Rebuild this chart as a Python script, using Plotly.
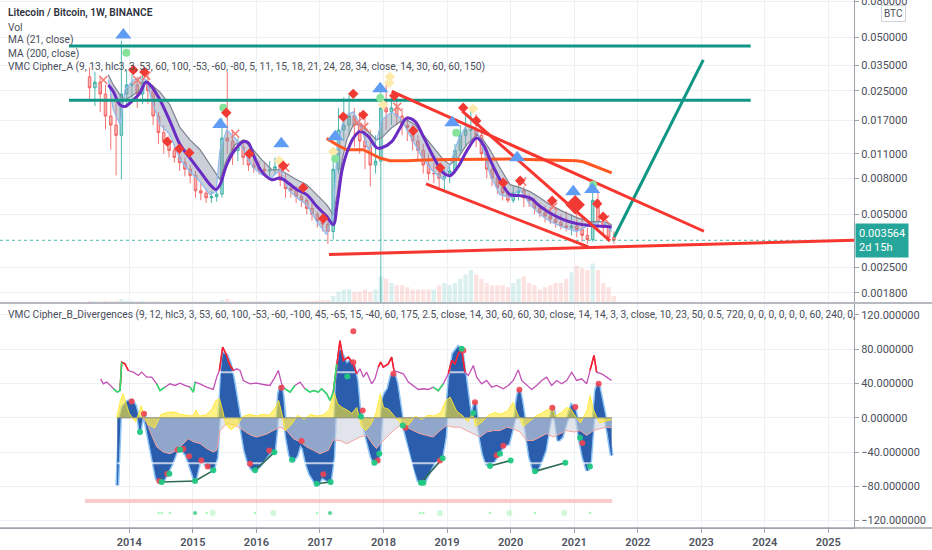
import math
import plotly.graph_objects as go

# ---------------- price pane (LTC/BTC, monthly candles) ----------------
candle_start = (2013, 5)
highs = [0.034, 0.032, 0.030, 0.027, 0.024, 0.022, 0.048, 0.033,
         0.031, 0.030, 0.033, 0.031, 0.027, 0.019, 0.016, 0.014, 0.0125, 0.011, 0.0105, 0.0095,
         0.0088, 0.0075, 0.0070, 0.0068, 0.0070, 0.0175, 0.032, 0.0150, 0.0135, 0.0130, 0.0115, 0.0110,
         0.0100, 0.0098, 0.0100, 0.0105, 0.0092, 0.0085, 0.0075, 0.0072, 0.0068, 0.0062, 0.0058, 0.0052,
         0.0050, 0.0046, 0.0105, 0.0200, 0.0230, 0.0240, 0.0200, 0.0190, 0.0180, 0.0150, 0.0140, 0.0250,
         0.0270, 0.0240, 0.0230, 0.0200, 0.0180, 0.0160, 0.0140, 0.0125, 0.0110, 0.0098, 0.0095, 0.0090,
         0.0095, 0.0125, 0.0160, 0.0180, 0.0195, 0.0185, 0.0145, 0.0115, 0.0095, 0.0085, 0.0075, 0.0068,
         0.0072, 0.0078, 0.0072, 0.0065, 0.0062, 0.0058, 0.0056, 0.0055, 0.0052, 0.0050, 0.0052, 0.0050,
         0.0052, 0.0048, 0.0042, 0.0072, 0.0068, 0.0050, 0.0044, 0.0040]
lows = [0.022, 0.0205, 0.019, 0.0151, 0.0116, 0.0083, 0.0079, 0.020,
        0.022, 0.020, 0.021, 0.021, 0.016, 0.0125, 0.011, 0.0105, 0.0098, 0.0088, 0.0082, 0.0075,
        0.0062, 0.0060, 0.0058, 0.0058, 0.0059, 0.0062, 0.0110, 0.0095, 0.0100, 0.0095, 0.0088, 0.0086,
        0.0084, 0.0082, 0.0082, 0.0085, 0.0072, 0.0062, 0.0062, 0.0058, 0.0055, 0.0050, 0.0046, 0.0042,
        0.0040, 0.0034, 0.0036, 0.0085, 0.0130, 0.0140, 0.0120, 0.0110, 0.0090, 0.0072, 0.0085, 0.0012,
        0.0150, 0.0160, 0.0160, 0.0140, 0.0130, 0.0115, 0.0100, 0.0085, 0.0078, 0.0075, 0.0070, 0.0068,
        0.0075, 0.0085, 0.0110, 0.0120, 0.0130, 0.0120, 0.0100, 0.0080, 0.0072, 0.0065, 0.0060, 0.0058,
        0.0058, 0.0060, 0.0055, 0.0055, 0.0050, 0.0048, 0.0045, 0.0044, 0.0042, 0.0041, 0.0040, 0.0038,
        0.0037, 0.0035, 0.0034, 0.0035, 0.0040, 0.0038, 0.0035, 0.0034]
closes = [0.026, 0.028, 0.024, 0.018, 0.016, 0.014, 0.024, 0.027,
          0.027, 0.024, 0.028, 0.025, 0.018, 0.0145, 0.013, 0.0115, 0.0105, 0.0098, 0.0090, 0.0083,
          0.0068, 0.0066, 0.0062, 0.0063, 0.0065, 0.0135, 0.0130, 0.0115, 0.0120, 0.0105, 0.0095, 0.0092,
          0.0090, 0.0088, 0.0089, 0.0093, 0.0078, 0.0070, 0.0068, 0.0063, 0.0060, 0.0054, 0.0050, 0.0046,
          0.0044, 0.0040, 0.0090, 0.0150, 0.0160, 0.0180, 0.0160, 0.0130, 0.0120, 0.0095, 0.0100, 0.0200,
          0.0190, 0.0200, 0.0180, 0.0160, 0.0155, 0.0130, 0.0115, 0.0095, 0.0085, 0.0085, 0.0080, 0.0082,
          0.0088, 0.0115, 0.0140, 0.0150, 0.0150, 0.0140, 0.0110, 0.0090, 0.0080, 0.0071, 0.0066, 0.0060,
          0.0066, 0.0068, 0.0062, 0.0060, 0.0054, 0.0051, 0.0049, 0.0047, 0.0045, 0.0043, 0.0042, 0.0043,
          0.0041, 0.0038, 0.0036, 0.0060, 0.0045, 0.0042, 0.0037, 0.003564]
first_open = 0.030
volumes = [0.04, 0.03, 0.03, 0.04, 0.03, 0.04, 0.08, 0.05,
           0.04, 0.03, 0.04, 0.03, 0.03, 0.03, 0.02, 0.02, 0.02, 0.02, 0.02, 0.02,
           0.02, 0.02, 0.02, 0.02, 0.02, 0.06, 0.08, 0.04, 0.03, 0.03, 0.03, 0.03,
           0.03, 0.03, 0.03, 0.03, 0.03, 0.03, 0.03, 0.03, 0.03, 0.03, 0.04, 0.04,
           0.05, 0.06, 0.15, 0.25, 0.30, 0.30, 0.25, 0.25, 0.30, 0.25, 0.30, 0.60,
           0.55, 0.45, 0.40, 0.40, 0.35, 0.30, 0.30, 0.30, 0.30, 0.30, 0.40, 0.45,
           0.40, 0.45, 0.55, 0.65, 0.75, 0.65, 0.55, 0.45, 0.40, 0.40, 0.40, 0.35,
           0.45, 0.55, 0.60, 0.45, 0.40, 0.30, 0.35, 0.40, 0.45, 0.45, 0.55, 0.70,
           0.85, 0.80, 0.75, 0.90, 0.75, 0.45, 0.35, 0.15]
last_price = 0.003564

# MA(21) and the Cipher_A ema ribbon (fast / slow edge)
ma21_t = [2013.670, 2013.748, 2013.854, 2013.932, 2014.063, 2014.168, 2014.263, 2014.352, 2014.483, 2014.640,
          2014.798, 2014.955, 2015.113, 2015.270, 2015.364, 2015.427, 2015.533, 2015.663, 2015.794, 2015.873,
          2015.951, 2016.083, 2016.241, 2016.371, 2016.502, 2016.634, 2016.792, 2016.949, 2017.106, 2017.210,
          2017.270, 2017.350, 2017.421, 2017.525, 2017.630, 2017.761, 2017.893, 2017.972, 2018.129, 2018.260,
          2018.365, 2018.496, 2018.626, 2018.784, 2018.941, 2019.046, 2019.177, 2019.309, 2019.467, 2019.570,
          2019.676, 2019.833, 2019.991, 2020.148, 2020.305, 2020.462, 2020.619, 2020.829, 2021.040, 2021.249,
          2021.459, 2021.591]
ma21_v = [0.0270, 0.0248, 0.0208, 0.0204, 0.0222, 0.0243, 0.0280, 0.0264, 0.0222, 0.0168,
          0.0124, 0.0104, 0.00875, 0.00736, 0.00690, 0.00736, 0.00954, 0.0116, 0.0129, 0.0127,
          0.0109, 0.00875, 0.00785, 0.00803, 0.00752, 0.00690, 0.00646, 0.00555, 0.00487, 0.00437,
          0.00567, 0.00896, 0.0111, 0.0135, 0.0147, 0.0138, 0.0119, 0.0119, 0.0129, 0.0154,
          0.0175, 0.0168, 0.0138, 0.0106, 0.00857, 0.00827, 0.00934, 0.0114, 0.0135, 0.0124,
          0.0102, 0.00785, 0.00646, 0.00638, 0.00619, 0.00555, 0.00509, 0.00467, 0.00443, 0.00432,
          0.00428, 0.00424]
rib_fast = [0.0288, 0.0195, 0.0161, 0.0253, 0.0288, 0.0296, 0.0288, 0.0222, 0.0161, 0.0141,
            0.0102, 0.00871, 0.00764, 0.00646, 0.00672, 0.0116, 0.0151, 0.01355, 0.0116, 0.0102,
            0.00918, 0.00838, 0.00806, 0.00894, 0.0069, 0.00621, 0.00567, 0.00455, 0.00384, 0.00498,
            0.0116, 0.0161, 0.0183, 0.0190, 0.0161, 0.0116, 0.0132, 0.0171, 0.0190, 0.0176,
            0.0151, 0.0124, 0.0102, 0.00871, 0.00785, 0.00954, 0.0132, 0.0161, 0.0151, 0.0116,
            0.00838, 0.00646, 0.00621, 0.0069, 0.00567, 0.00498, 0.00455, 0.00421, 0.00399, 0.00437,
            0.00455, 0.00399]
rib_slow = [0.0308, 0.0270, 0.0237, 0.0222, 0.0237, 0.0253, 0.0281, 0.0270, 0.0246, 0.0208,
            0.01545, 0.0132, 0.0116, 0.00954, 0.00838, 0.00785, 0.0102, 0.0124, 0.0132, 0.0124,
            0.0116, 0.0102, 0.00894, 0.00894, 0.00838, 0.00785, 0.00736, 0.00646, 0.00567, 0.00498,
            0.00646, 0.0102, 0.0132, 0.0161, 0.0161, 0.01466, 0.0132, 0.01355, 0.01545, 0.01672,
            0.0171, 0.0161, 0.0141, 0.0119, 0.0102, 0.00954, 0.01046, 0.0124, 0.0141, 0.0132,
            0.0116, 0.00918, 0.00736, 0.00708, 0.00672, 0.00621, 0.00567, 0.00518, 0.00479, 0.00455,
            0.00455, 0.00437]

# MA(200)
ma200_t = [2017.106, 2017.264, 2017.421, 2017.682, 2017.840, 2017.945, 2018.102, 2018.365, 2018.732,
           2019.362, 2019.991, 2021.040, 2021.144, 2021.591]
ma200_v = [0.01345, 0.01238, 0.0116, 0.0116, 0.01087, 0.01041, 0.01006, 0.01006, 0.01019,
           0.01028, 0.01028, 0.01006, 0.00992, 0.00857]

# drawn levels / trend lines: (t0, p0, t1, p1)
teal_lines = [(2013.051, 0.0449, 2023.778, 0.0449),
              (2013.051, 0.0221, 2023.778, 0.0221),
              (2021.632, 0.00372, 2023.032, 0.0374)]
red_lines = [(2017.142, 0.00296, 2025.404, 0.003565),
             (2018.129, 0.0248, 2023.043, 0.00401),
             (2019.240, 0.0192, 2021.564, 0.00354),
             (2018.669, 0.00743, 2021.223, 0.00327)]

# Cipher_A signals
tri_t = [2013.906, 2015.431, 2016.391, 2017.240, 2017.948, 2019.081, 2020.104, 2020.985, 2021.284]
tri_p = [0.0518, 0.0161, 0.01254, 0.01374, 0.02566, 0.01648, 0.01045, 0.00671, 0.0069]
dia_t = [2014.063, 2014.236, 2014.598, 2014.787, 2014.944, 2015.526, 2015.888, 2016.422, 2016.737, 2017.052,
         2017.366, 2017.524, 2017.681, 2018.169, 2018.468, 2018.892, 2019.254, 2019.459, 2019.883, 2020.151,
         2020.654, 2021.362, 2021.456]
dia_p = [0.0328, 0.0320, 0.01289, 0.01175, 0.01116, 0.0188, 0.01102, 0.00942, 0.00708, 0.00473,
         0.01782, 0.02404, 0.01828, 0.02344, 0.01486, 0.00918, 0.02004, 0.01691, 0.00755, 0.00774,
         0.00597, 0.00574, 0.00485]
big_dia_t = [2021.016]
big_dia_p = [0.00567]
xs_t = [2013.591, 2014.126, 2014.267, 2015.667, 2016.454, 2017.587, 2017.697, 2018.216, 2020.182, 2020.670, 2021.488]
xs_p = [0.0288, 0.0288, 0.0304, 0.01428, 0.00918, 0.01648, 0.01563, 0.02032, 0.00765, 0.00552, 0.00467]
gdot_t = [2013.953, 2015.479, 2017.240, 2017.948, 2019.144, 2021.299]
gdot_p = [0.0410, 0.02004, 0.01032, 0.0228, 0.01448, 0.00736]
ydia_t = [2016.360, 2017.209, 2017.995, 2018.090, 2018.100, 2019.410]
ydia_p = [0.01005, 0.01131, 0.02085, 0.02775, 0.0300, 0.01977]

# ---------------- oscillator pane (VMC Cipher_B) ----------------
wt_t = [2013.811, 2013.854, 2013.896, 2013.958,
        2014.037, 2014.090, 2014.142, 2014.168, 2014.200, 2014.231, 2014.273, 2014.326, 2014.378, 2014.431,
        2014.483, 2014.536, 2014.588, 2014.667, 2014.745, 2014.824, 2014.903, 2014.981,
        2015.034, 2015.070, 2015.112, 2015.165, 2015.244, 2015.322, 2015.375, 2015.401, 2015.427, 2015.453,
        2015.480, 2015.532, 2015.585, 2015.637, 2015.690, 2015.731, 2015.768, 2015.821, 2015.873, 2015.926,
        2015.978,
        2016.057, 2016.135, 2016.214, 2016.277, 2016.319, 2016.355, 2016.387, 2016.413, 2016.439, 2016.476,
        2016.529, 2016.581, 2016.634, 2016.686, 2016.739, 2016.791, 2016.843, 2016.922, 2016.974,
        2017.027, 2017.079, 2017.158, 2017.210, 2017.236, 2017.263, 2017.315, 2017.368, 2017.420, 2017.473,
        2017.525, 2017.578, 2017.620, 2017.656, 2017.709, 2017.761, 2017.814, 2017.856, 2017.903, 2017.934,
        2017.955, 2017.987,
        2018.024, 2018.076, 2018.128, 2018.165, 2018.207, 2018.249, 2018.286, 2018.338, 2018.391, 2018.443,
        2018.496, 2018.548, 2018.601, 2018.653, 2018.705, 2018.784, 2018.863, 2018.915, 2018.968, 2018.994,
        2019.036, 2019.099, 2019.177, 2019.230, 2019.282, 2019.335, 2019.371, 2019.403, 2019.440, 2019.466,
        2019.519, 2019.571, 2019.623, 2019.676, 2019.728, 2019.807, 2019.885, 2019.964,
        2020.017, 2020.069, 2020.106, 2020.138, 2020.174, 2020.211, 2020.253, 2020.305, 2020.358, 2020.410,
        2020.463, 2020.541, 2020.594, 2020.630, 2020.662, 2020.699, 2020.751, 2020.804, 2020.856, 2020.908,
        2020.961,
        2021.003, 2021.040, 2021.092, 2021.144, 2021.207, 2021.249, 2021.276, 2021.302, 2021.344, 2021.380,
        2021.433, 2021.485, 2021.538, 2021.590]
wt_v = [-78.9, 0, 12.4, 18.2,
        20.2, 14.3, 0, -14.8, 0, 4.6, -10.9, -30.4, -53.7, -71.2,
        -75.1, -73.1, -65.3, -53.7, -38.1, -36.2, -44.0, -61.5,
        -73.1, -61.5, -47.9, -51.8, -57.6, -59.5, -45.9, -14.8, 12.4, 55.1,
        74.6, 72.7, 62.9, 43.5, 20.2, 0, -14.8, -38.1, -51.7, -59.5,
        -61.5,
        -55.6, -47.9, -40.2, -40.2, -10.9, 27.9, 37.7, 24.1, 0, -22.6,
        -44.0, -49.8, -44.0, -30.4, -36.2, -53.7, -65.3, -75.1, -77.0,
        -69.2, -71.2, -75.1, -45.9, 0, 43.5, 78.5, 70.0, 62.0, 66.0,
        62.0, 43.5, 8.5, 0, -14.8, -30.4, -45.9, -52.5, -49.8, -42.0,
        -14.8, 20.2,
        27.9, 33.8, 49.3, 51.3, 39.6, 16.3, 0, -14.8, -30.4, -45.9,
        -61.5, -73.1, -76.2, -73.1, -65.3, -53.7, -47.9, -45.9, -22.6, 0,
        43.5, 74.6, 82.3, 78.5, 51.3, 20.2, 0, 4.6, 18.2, 0,
        -22.6, -42.0, -53.7, -55.6, -51.7, -42.0, -32.3, -30.4,
        -14.8, 0, 22.1, 32.6, 18.2, 0, -22.6, -45.9, -59.5, -61.5,
        -53.7, -38.1, -14.8, 0, 11.6, 0, -26.5, -22.6, -10.9, 0,
        14.3,
        11.6, 0, -26.5, -45.9, -61.5, -53.7, -26.5, 0, 31.8, 39.6,
        20.2, 0, -18.7, -44.0]

rsi_t = [2013.549, 2013.591, 2013.644, 2013.696, 2013.749, 2013.811, 2013.854, 2013.880, 2013.932, 2013.985,
         2014.063, 2014.142, 2014.194, 2014.273, 2014.352, 2014.431, 2014.483, 2014.561, 2014.640, 2014.719,
         2014.797, 2014.876, 2014.955,
         2015.007, 2015.034, 2015.112, 2015.217, 2015.322, 2015.375, 2015.417, 2015.469, 2015.521, 2015.574,
         2015.637, 2015.690, 2015.742, 2015.795, 2015.899,
         2016.004, 2016.109, 2016.214, 2016.292, 2016.345, 2016.397, 2016.450, 2016.529, 2016.607, 2016.686,
         2016.765, 2016.843, 2016.896, 2016.974,
         2017.027, 2017.106, 2017.158, 2017.210, 2017.263, 2017.315, 2017.368, 2017.447, 2017.525, 2017.578,
         2017.630, 2017.683, 2017.735, 2017.814, 2017.866, 2017.918, 2017.955, 2017.997,
         2018.076, 2018.128, 2018.165, 2018.233, 2018.312, 2018.391, 2018.469, 2018.548, 2018.627, 2018.705,
         2018.784, 2018.863, 2018.941,
         2019.020, 2019.073, 2019.125, 2019.177, 2019.230, 2019.282, 2019.335, 2019.414, 2019.466, 2019.545,
         2019.623, 2019.702, 2019.780, 2019.885, 2019.964,
         2020.043, 2020.122, 2020.174, 2020.253, 2020.331, 2020.410, 2020.489, 2020.568, 2020.646, 2020.725,
         2020.804, 2020.882, 2020.961,
         2021.039, 2021.118, 2021.197, 2021.249, 2021.312, 2021.354, 2021.433, 2021.512, 2021.590]
rsi_v = [45.4, 39.6, 41.6, 37.7, 33.8, 29.9, 31.8, 64.8, 62.9, 55.1,
         53.2, 49.3, 53.2, 47.4, 47.4, 39.6, 31.8, 35.7, 39.6, 37.7,
         40.4, 37.7, 35.7,
         29.9, 41.6, 39.6, 35.7, 33.0, 47.4, 55.1, 82.3, 74.6, 62.9,
         55.1, 57.1, 55.1, 43.5, 39.6,
         40.4, 38.8, 37.7, 47.4, 55.1, 39.6, 33.8, 29.9, 37.7, 41.6,
         33.8, 29.9, 31.8, 29.9,
         33.8, 27.9, 20.2, 29.9, 62.9, 90.1, 66.8, 70.7, 62.9, 51.3,
         57.1, 47.4, 53.2, 39.6, 45.4, 59.1, 64.8, 59.1,
         62.9, 70.7, 55.1, 53.2, 51.3, 41.6, 37.7, 33.0, 33.8, 33.0,
         35.7, 31.5, 39.6,
         51.3, 66.8, 62.9, 74.6, 80.4, 53.2, 49.3, 61.0, 47.4, 39.6,
         43.5, 35.7, 37.7, 33.8, 37.7,
         43.5, 55.9, 43.5, 37.7, 33.0, 37.7, 43.5, 47.4, 37.7, 43.5,
         39.6, 43.5, 53.2,
         43.5, 45.4, 39.6, 55.1, 72.7, 53.2, 51.3, 47.4, 43.5]
rsi_hot, rsi_cold = 62, 32

mf_low_t = [2014.200, 2014.270, 2014.350, 2014.431, 2014.536, 2014.640, 2014.745, 2014.850, 2014.929,
            2015.007, 2015.112, 2015.217, 2015.322, 2015.375, 2015.427, 2015.532, 2015.637, 2015.742, 2015.795,
            2015.899, 2016.004, 2016.162, 2016.266, 2016.371, 2016.476, 2016.581, 2016.686, 2016.791, 2016.896,
            2017.000, 2017.132, 2017.210, 2017.316, 2017.420, 2017.525, 2017.630, 2017.735, 2017.840, 2017.892,
            2017.945, 2018.050, 2018.155, 2018.260, 2018.364, 2018.469, 2018.574, 2018.679, 2018.784, 2018.889,
            2018.994, 2019.099, 2019.204, 2019.309, 2019.414, 2019.519, 2019.623, 2019.728, 2019.833, 2019.938,
            2020.043, 2020.148, 2020.253, 2020.358, 2020.463, 2020.568, 2020.672, 2020.777, 2020.882, 2021.000,
            2021.092, 2021.197, 2021.302, 2021.407, 2021.512, 2021.590]
mf_low_v = [0, -5, -20, -34, -40, -42, -38, -30, -24.5,
            -28, -30, -36, -40, -38, -15, -7, -8, -12, -15,
            -20, -22.6, -19, -15, -11, -15, -24.5, -28, -34, -38,
            -42, -38, -26, -26.5, -30.4, -26.5, -22.6, -20.6, -32, -36,
            -30.4, -22.6, -15, -9, -11, -15, -18.6, -20.6, -22.6, -15,
            -9, -11, -11, -15, -18.6, -22.6, -16.7, -15, -15, -11,
            -12.8, -16.7, -26.5, -26.5, -22.6, -18.6, -22.6, -18.6, -15, -16.7,
            -15, -20.6, -15, -12.8, -11, -11.7]

mf_hi_t = [2013.80, 2013.86, 2013.90, 2013.95,
           2014.00, 2014.10, 2014.16, 2014.19, 2014.23, 2014.30, 2014.40, 2014.50, 2014.60, 2014.70, 2014.80, 2014.90,
           2015.00, 2015.05, 2015.10, 2015.20, 2015.30, 2015.36, 2015.42, 2015.47, 2015.52, 2015.60, 2015.70, 2015.80,
           2015.90,
           2016.00, 2016.10, 2016.20, 2016.30, 2016.35, 2016.40, 2016.45, 2016.55, 2016.65, 2016.75, 2016.85, 2016.95,
           2017.05, 2017.15, 2017.22, 2017.28, 2017.35, 2017.45, 2017.50, 2017.58, 2017.65, 2017.72, 2017.80, 2017.88,
           2017.95,
           2018.00, 2018.08, 2018.15, 2018.25, 2018.32, 2018.40, 2018.50, 2018.60, 2018.70, 2018.80, 2018.90, 2018.98,
           2019.05, 2019.10, 2019.15, 2019.25, 2019.33, 2019.40, 2019.45, 2019.55, 2019.65, 2019.75, 2019.85, 2019.95,
           2020.04, 2020.10, 2020.20, 2020.30, 2020.40, 2020.50, 2020.60, 2020.65, 2020.70, 2020.80, 2020.88, 2020.95,
           2021.00, 2021.10, 2021.20, 2021.25, 2021.30, 2021.40, 2021.50, 2021.59]
mf_hi_v = [0, 20, 28, 15,
           5, -5, 8, 14, 2, -8, -12, 4, 6, 7, 4, 3,
           2, 9, 2, 3, 10, 20, 22, 8, -8, -14, -8, 2,
           4,
           2, 4, 3, 12, 20, 5, -15, -8, 3, -2, 4, 2,
           3, 10, 30, 16, 12, 8, 5, 12, -10, -15, -8, 5,
           28,
           12, 10, 4, -5, -12, -8, 2, -2, 3, 2, 6, 20,
           24, 16, 8, 2, -5, 6, -10, -5, 3, 6, 4, 8,
           18, 6, -10, -4, 2, 6, 10, 14, 2, 6, 12, 10,
           4, -6, 8, 26, 10, -6, -4, -2]

red_dot_t = [2014.037, 2014.231, 2014.472, 2014.598, 2014.761, 2014.850, 2014.939, 2015.133, 2015.233, 2015.899,
             2016.203, 2016.392, 2016.712, 2017.053, 2017.525, 2017.525, 2017.672, 2017.908, 2018.155, 2018.344,
             2018.889, 2019.256, 2019.440, 2019.781, 2019.885, 2020.138, 2020.657, 2021.018, 2021.129, 2021.386]
red_dot_v = [18.9, 4.6, -73.9, -65.3, -37.3, -36.5, -45.0, -49.8, -56.8, -53.7,
             -38.1, 35.0, -27.2, -66.1, 101.0, 64.9, 8.5, -49.8, 51.3, -11.7,
             -49.8, 78.5, 18.2, -43.9, -32.7, 32.6, 11.6, 12.4, -29.5, 39.6]
green_dot_t = [2014.168, 2014.509, 2014.630, 2014.797, 2015.034, 2015.322, 2015.978, 2016.282, 2016.560, 2016.948,
               2017.168, 2017.431, 2017.646, 2017.856, 2017.934, 2018.302, 2018.590, 2018.627, 2018.931, 2019.230,
               2019.414, 2019.676, 2019.833, 2020.001, 2020.384, 2020.861, 2021.092, 2021.249]
green_dot_v = [-16.7, -75.0, -65.3, -37.3, -73.9, -61.4, -61.4, -40.4, -49.0, -77.0,
               -75.0, 48.1, 1.5, -52.5, -42.0, -9.0, -75.8, -75.8, -47.4, 80.4,
               5.4, -56.4, -42.0, -49.8, -62.6, -52.5, -23.3, -56.8]
div_lines = [(2014.509, -75.0, 2015.034, -73.9), (2015.034, -73.9, 2015.322, -61.4),
             (2015.978, -61.4, 2016.282, -40.4), (2016.948, -77.0, 2017.168, -75.0),
             (2018.590, -75.8, 2018.931, -47.4), (2019.676, -56.4, 2020.001, -49.8),
             (2020.384, -62.6, 2020.861, -52.5)]
band_t = [2013.30, 2021.60]
band_level = -97.2
ob_levels = [53, -53]
row_level = -111.2
row_t = [2014.462, 2014.509, 2014.640, 2015.034, 2015.217, 2015.312, 2015.978, 2016.266, 2016.958, 2017.158,
         2018.574, 2018.627, 2018.889, 2019.676, 2019.980, 2020.384, 2020.845, 2021.249]
row_kind = ["s", "s", "s", "d", "s", "b", "s", "b", "s", "d", "s", "s", "b", "s", "b", "s", "b", "s"]

price_ticks = [0.08, 0.05, 0.035, 0.025, 0.017, 0.011, 0.008, 0.005, 0.0025, 0.0018]
osc_ticks = [120, 80, 40, 0, -40, -80, -120]
years = list(range(2014, 2026))

# ---------------- build ----------------
FONT = "Roboto"
TXT = "#4a4e59"
TEAL = "#0f9684"
RED = "#f7372f"

t_c = [candle_start[0] + (candle_start[1] - 1 + i + 0.5) / 12 for i in range(len(closes))]
opens = [first_open] + closes[:-1]

fig = go.Figure()

# volume (overlay axis at the bottom of the price pane)
vol_col = ["rgba(38,166,154,0.17)" if c >= o else "rgba(239,83,80,0.17)" for o, c in zip(opens, closes)]
fig.add_trace(go.Bar(x=t_c, y=volumes, marker=dict(color=vol_col, line=dict(width=0)),
                     xaxis="x2", yaxis="y3", width=1 / 12 * 0.8))

fig.add_trace(go.Candlestick(
    x=t_c, open=opens, high=highs, low=lows, close=closes, xaxis="x2", yaxis="y",
    increasing=dict(line=dict(color="rgba(38,166,154,0.8)", width=1), fillcolor="rgba(38,166,154,0.45)"),
    decreasing=dict(line=dict(color="rgba(239,83,80,0.8)", width=1), fillcolor="rgba(239,83,80,0.45)"),
    whiskerwidth=0))

# ribbon
fig.add_trace(go.Scatter(x=ma21_t, y=rib_slow, mode="lines", line=dict(color="#7d8290", width=1.2),
                         xaxis="x2", yaxis="y"))
fig.add_trace(go.Scatter(x=ma21_t, y=rib_fast, mode="lines", line=dict(color="#8fbcf2", width=1.2),
                         fill="tonexty", fillcolor="rgba(140,150,170,0.45)", xaxis="x2", yaxis="y"))

fig.add_trace(go.Scatter(x=ma200_t, y=ma200_v, mode="lines", line=dict(color="#ff5722", width=3),
                         xaxis="x2", yaxis="y"))
fig.add_trace(go.Scatter(x=ma21_t, y=ma21_v, mode="lines", line=dict(color="#6a2cc3", width=3, shape="spline"),
                         xaxis="x2", yaxis="y"))

# last price dotted line
fig.add_trace(go.Scatter(x=[2011.965, 2025.404], y=[last_price, last_price], mode="lines",
                         line=dict(color="rgba(38,166,154,0.8)", width=1, dash="dot"), xaxis="x2", yaxis="y"))

for t0, p0, t1, p1 in teal_lines:
    fig.add_trace(go.Scatter(x=[t0, t1], y=[p0, p1], mode="lines", line=dict(color=TEAL, width=3),
                             xaxis="x2", yaxis="y"))
for t0, p0, t1, p1 in red_lines:
    fig.add_trace(go.Scatter(x=[t0, t1], y=[p0, p1], mode="lines", line=dict(color=RED, width=3),
                             xaxis="x2", yaxis="y"))

# signals
fig.add_trace(go.Scatter(x=ydia_t, y=ydia_p, mode="markers", xaxis="x2", yaxis="y",
                         marker=dict(symbol="diamond", size=8, color="#fde9a9")))
fig.add_trace(go.Scatter(x=gdot_t, y=gdot_p, mode="markers", xaxis="x2", yaxis="y",
                         marker=dict(symbol="circle", size=8, color="#86e39b")))
fig.add_trace(go.Scatter(x=xs_t, y=xs_p, mode="markers", xaxis="x2", yaxis="y",
                         marker=dict(symbol="x-thin", size=8, line=dict(color="#f47b73", width=1.6))))
fig.add_trace(go.Scatter(x=dia_t, y=dia_p, mode="markers", xaxis="x2", yaxis="y",
                         marker=dict(symbol="diamond", size=8, color="#f23a35")))
fig.add_trace(go.Scatter(x=big_dia_t, y=big_dia_p, mode="markers", xaxis="x2", yaxis="y",
                         marker=dict(symbol="diamond", size=15, color="#f23a35")))
fig.add_trace(go.Scatter(x=tri_t, y=tri_p, mode="markers", xaxis="x2", yaxis="y",
                         marker=dict(symbol="triangle-up", size=14, color="#5f9cf3")))

# ---- oscillator ----
fig.add_trace(go.Scatter(x=wt_t, y=wt_v, mode="lines", line=dict(color="#8cc3f5", width=4),
                         xaxis="x", yaxis="y2"))
fig.add_trace(go.Scatter(x=wt_t, y=wt_v, mode="lines", line=dict(color="#2a5dab", width=1),
                         fill="tozeroy", fillcolor="#2a5dab", xaxis="x", yaxis="y2"))
fig.add_trace(go.Scatter(x=mf_low_t, y=mf_low_v, mode="lines", line=dict(color="#f3a39d", width=1),
                         fill="tozeroy", fillcolor="rgba(208,211,222,0.62)", xaxis="x", yaxis="y2"))
fig.add_trace(go.Scatter(x=mf_hi_t, y=mf_hi_v, mode="lines", line=dict(color="rgba(255,232,50,0.9)", width=1),
                         fill="tozeroy", fillcolor="rgba(255,232,50,0.6)", xaxis="x", yaxis="y2"))
for lvl in ob_levels:
    fig.add_trace(go.Scatter(x=[wt_t[0], wt_t[-1]], y=[lvl, lvl], mode="lines",
                             line=dict(color="rgba(255,255,255,0.7)", width=2), xaxis="x", yaxis="y2"))
fig.add_trace(go.Scatter(x=[wt_t[0], wt_t[-1]], y=[0, 0], mode="lines",
                         line=dict(color="rgba(140,140,120,0.6)", width=1.5), xaxis="x", yaxis="y2"))


def highlight(vals, cond):
    out = []
    for i, v in enumerate(vals):
        near = cond(v) or (i > 0 and cond(vals[i - 1])) or (i + 1 < len(vals) and cond(vals[i + 1]))
        out.append(v if near else None)
    return out


fig.add_trace(go.Scatter(x=rsi_t, y=rsi_v, mode="lines", line=dict(color="#c251b5", width=1.3),
                         xaxis="x", yaxis="y2"))
fig.add_trace(go.Scatter(x=rsi_t, y=highlight(rsi_v, lambda v: v >= rsi_hot), mode="lines",
                         line=dict(color="#f5222d", width=1.6), xaxis="x", yaxis="y2"))
fig.add_trace(go.Scatter(x=rsi_t, y=highlight(rsi_v, lambda v: v <= rsi_cold), mode="lines",
                         line=dict(color="#2ee06b", width=1.6), xaxis="x", yaxis="y2"))

for t0, v0, t1, v1 in div_lines:
    fig.add_trace(go.Scatter(x=[t0, t1], y=[v0, v1], mode="lines", line=dict(color="#2f6b55", width=1.6),
                             xaxis="x", yaxis="y2"))
fig.add_trace(go.Scatter(x=red_dot_t, y=red_dot_v, mode="markers", xaxis="x", yaxis="y2",
                         marker=dict(size=6, color="rgba(242,68,80,0.9)")))
fig.add_trace(go.Scatter(x=green_dot_t, y=green_dot_v, mode="markers", xaxis="x", yaxis="y2",
                         marker=dict(size=6, color="rgba(32,200,130,0.95)")))
fig.add_trace(go.Scatter(x=band_t, y=[band_level, band_level], mode="lines",
                         line=dict(color="rgba(248,190,190,0.8)", width=4), xaxis="x", yaxis="y2"))
kind_style = {"s": (3.5, "#7ef59a"), "b": (7, "#bdf5c8"), "d": (5, "#16c46a")}
fig.add_trace(go.Scatter(x=row_t, y=[row_level] * len(row_t), mode="markers", xaxis="x", yaxis="y2",
                         marker=dict(size=[kind_style[k][0] for k in row_kind],
                                     color=[kind_style[k][1] for k in row_kind])))

# ---------------- layout ----------------
H, PLOT_H = 550, 528
split = 1 - 303 / PLOT_H
grid = "#edf1f6"
axis_col = "#9ea2ab"
xr = [2011.965, 2025.404]

fig.update_layout(
    width=932, height=H, margin=dict(l=0, r=78, t=0, b=H - PLOT_H, autoexpand=False),
    plot_bgcolor="white", paper_bgcolor="white", showlegend=False,
    font=dict(family=FONT, size=11, color=TXT),
    xaxis=dict(domain=[0, 1], anchor="y2", range=xr, tickvals=years, ticktext=[str(y) for y in years],
               showgrid=True, gridcolor=grid, zeroline=False, ticks="outside", ticklen=4, tickcolor=axis_col,
               tickfont=dict(size=11, color="#4f5360", weight=600), showline=True, linecolor=axis_col,
               rangeslider=dict(visible=False)),
    xaxis2=dict(domain=[0, 1], anchor="y", matches="x", range=xr, tickvals=years, showticklabels=False,
                showgrid=True, gridcolor=grid, zeroline=False, rangeslider=dict(visible=False)),
    yaxis=dict(domain=[split + 0.001, 1], anchor="x2", type="log", side="right",
               range=[-2.800, -1.088], tickvals=price_ticks, ticktext=["%.6f" % p for p in price_ticks],
               showgrid=True, gridcolor=grid, zeroline=False, ticks="outside", ticklen=4, tickcolor=axis_col,
               showline=True, linecolor=axis_col, tickfont=dict(size=11, color=TXT),
               ticklabeloverflow="allow", automargin=False),
    yaxis2=dict(domain=[0, split - 0.001], anchor="x", side="right", range=[-128.7, 133.3],
                tickvals=osc_ticks, ticktext=[("%.6f" % v).replace("-", "\u2212") for v in osc_ticks],
                showgrid=True, gridcolor=grid, zeroline=False, ticks="outside", ticklen=4, tickcolor=axis_col,
                showline=True, linecolor=axis_col, tickfont=dict(size=11, color=TXT), automargin=False),
    yaxis3=dict(overlaying="y", anchor="x2", range=[0, 7], visible=False),
)

# pane separator and bottom rule across the full width
fig.add_shape(type="line", xref="paper", yref="paper", x0=0, x1=1.1, y0=split, y1=split,
              line=dict(color=axis_col, width=1.5))
fig.add_shape(type="line", xref="paper", yref="paper", x0=0, x1=1.1, y0=0, y1=0,
              line=dict(color=axis_col, width=1.5))

LEG_SIZE = 10.2
legend_lines = [
    ("Litecoin / Bitcoin, 1W, BINANCE", 13, 600),
    ("Vol", 27, 400),
    ("MA (21, close)", 40, 400),
    ("MA (200, close)", 54, 400),
    ("VMC Cipher_A (9, 13, hlc3, 3, 53, 60, 100, -53, -60, -80, 5, 11, 15, 18, 21, 24, 28, 34, close, "
     "14, 30, 60, 60, 150)", 67, 400),
    ("VMC Cipher_B_Divergences (9, 12, hlc3, 3, 53, 60, 100, -53, -60, -100, 45, -65, 15, -40, 60, 175, 2.5, "
     "close, 14, 30, 60, 60, 30, close, 14, 14, 3, 3, close, 10, 23, 50, 0.5, 720, 0, 0, 0, 0, 0, 0, 60, 240, 0,",
     315, 400),
]
for text, ypx, wgt in legend_lines:
    fig.add_annotation(xref="paper", yref="paper", x=6 / 854, y=1 - ypx / PLOT_H, text=text,
                       showarrow=False, xanchor="left", yanchor="middle",
                       font=dict(family=FONT, size=LEG_SIZE, color="#2f3240" if wgt > 400 else TXT, weight=wgt))

fig.add_annotation(xref="paper", yref="y", x=1, y=math.log10(last_price), text="0.003564<br>2d 15h",
                   showarrow=False, xanchor="left", yanchor="middle", align="left", xshift=1,
                   bgcolor="#26a69a", borderpad=3, font=dict(family=FONT, size=11, color="white"))
fig.add_annotation(xref="paper", yref="paper", x=893 / 854, y=1 - 13 / PLOT_H, text="BTC",
                   showarrow=False, xanchor="center", yanchor="middle", bgcolor="white",
                   bordercolor="#d1d4dc", borderwidth=1, borderpad=2, font=dict(family=FONT, size=10, color=TXT))

# the page's default body margin would shift the chart by 8px
fig.write_html("out.html", config={"displayModeBar": False},
               post_script="document.body.style.margin='0';document.body.style.overflow='hidden';")
